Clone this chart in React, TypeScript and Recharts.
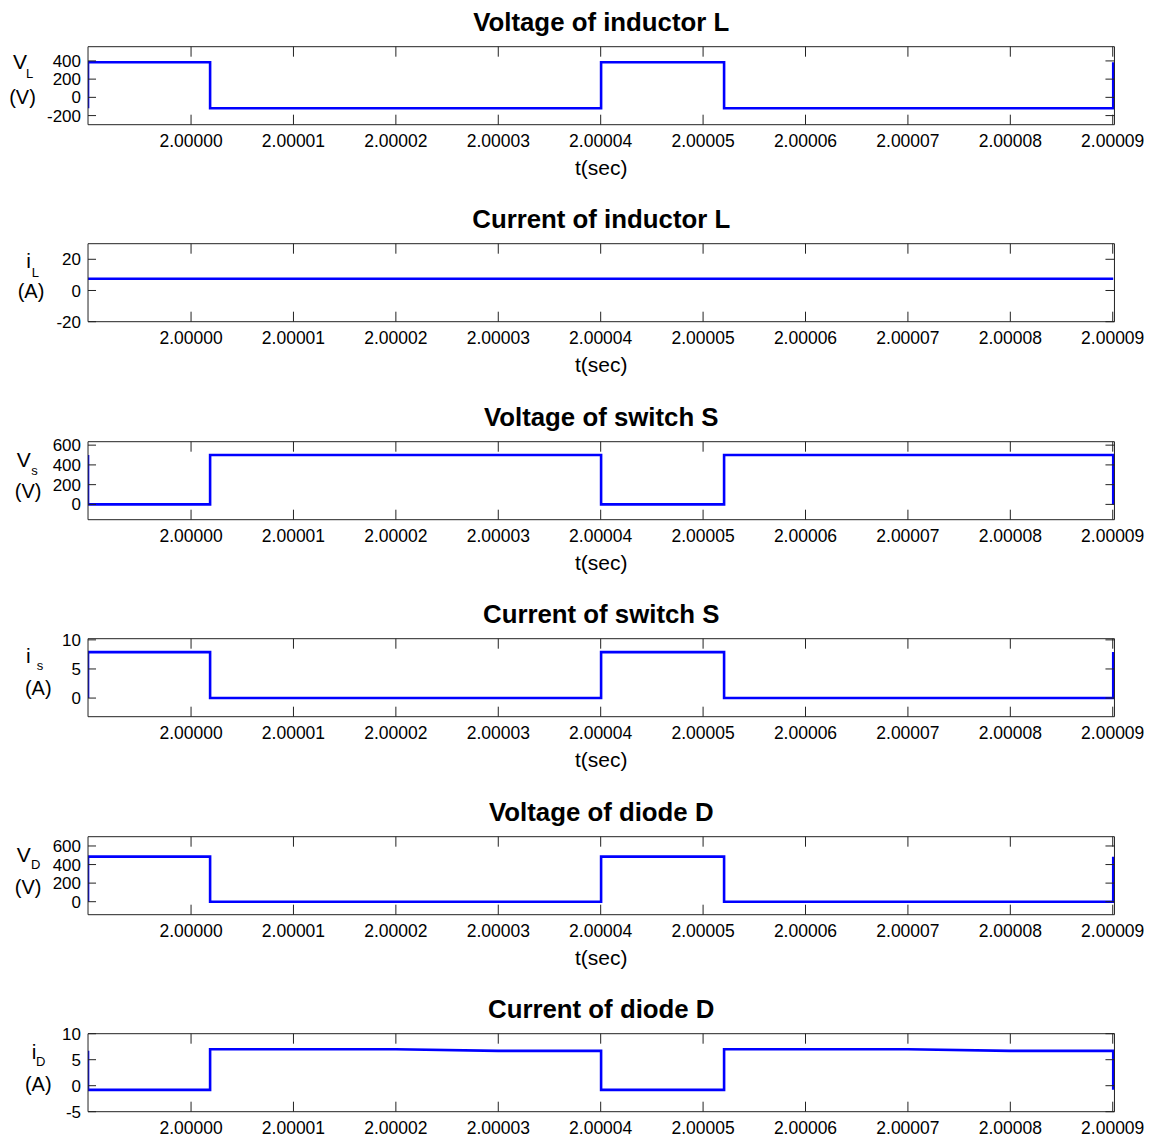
import React from 'react';
import { LineChart, Line, XAxis, YAxis } from 'recharts';

// time axis in microseconds after t = 2 s; switching edges are doubled
const timeUs = [-10.06, -10.06, 1.86, 1.86, 20, 30, 40.04, 40.04, 52.05, 52.05, 70, 80, 90.05, 90.05];
const vInductor = [-120, 385, 385, -120, -120, -120, -120, 385, 385, -120, -120, -120, -120, 385];
const iInductor = [7.5, 7.5, 7.5, 7.5, 7.5, 7.5, 7.5, 7.5, 7.5, 7.5, 7.5, 7.5, 7.5, 7.5];
const vSwitch = [500, 0, 0, 500, 500, 500, 500, 0, 0, 500, 500, 500, 500, 0];
const iSwitch = [0, 7.9, 7.9, 0, 0, 0, 0, 7.9, 7.9, 0, 0, 0, 0, 7.9];
const vDiode = [0, 485, 485, 0, 0, 0, 0, 485, 485, 0, 0, 0, 0, 485];
const iDiode = [6.7, -0.8, -0.8, 7.0, 7.0, 6.7, 6.7, -0.8, -0.8, 7.0, 7.0, 6.7, 6.7, -0.8];

const xTicks = [0, 10, 20, 30, 40, 50, 60, 70, 80, 90];
const xDomain = [-10.06, 90.17];

const FONT = "'Liberation Sans', Arial, Helvetica, sans-serif";
const W = 1154;
const STEP = 197.46;
const BOX_TOP = 46.7;
const BOX_H = 78;
const BOX_LEFT = 88;
const BOX_RIGHT = 1114.5;

const panels = [
  {
    title: 'Voltage of inductor L', values: vInductor, domain: [-300, 556], ticks: [-200, 0, 200, 400],
    sym: 'V', sub: 'L', unit: '(V)', main: [20, 14], subPos: [29.5, 26.3], unitPos: [22.5, 50],
  },
  {
    title: 'Current of inductor L', values: iInductor, domain: [-20, 30], ticks: [-20, 0, 20],
    sym: 'i', sub: 'L', unit: '(A)', main: [28.7, 15.7], subPos: [35.3, 27.4], unitPos: [31, 47],
  },
  {
    title: 'Voltage of switch S', values: vSwitch, domain: [-155, 635], ticks: [0, 200, 400, 600],
    sym: 'V', sub: 's', unit: '(V)', main: [23.8, 17.6], subPos: [34.5, 28.3], unitPos: [28.2, 49.5],
  },
  {
    title: 'Current of switch S', values: iSwitch, domain: [-3.2, 10.2], ticks: [0, 5, 10],
    sym: 'i', sub: 's', unit: '(A)', main: [28.3, 15.7], subPos: [40, 25.7], unitPos: [38.3, 48.5],
  },
  {
    title: 'Voltage of diode D', values: vDiode, domain: [-140, 700], ticks: [0, 200, 400, 600],
    sym: 'V', sub: 'D', unit: '(V)', main: [23.8, 17.3], subPos: [35.8, 27.3], unitPos: [28.2, 50],
  },
  {
    title: 'Current of diode D', values: iDiode, domain: [-5, 10], ticks: [-5, 0, 5, 10],
    sym: 'i', sub: 'D', unit: '(A)', main: [34, 16.7], subPos: [40.8, 26.7], unitPos: [38.3, 50.5],
  },
];

const fmtTime = (v: number) => (2 + v * 1e-6).toFixed(5);
const noLabel = () => '';

const Txt = ({ x, y, size, bold, children }: any) => (
  <div
    style={{
      position: 'absolute', left: x, top: y, transform: 'translate(-50%, -50%)',
      fontSize: size, lineHeight: 1, whiteSpace: 'nowrap', fontWeight: bold ? 'bold' : 'normal', color: '#000',
    }}
  >
    {children}
  </div>
);

function Panel({ p, index }: any) {
  const data = timeUs.map((t, k) => ({ t, v: p.values[k] }));
  return (
    <div style={{ position: 'absolute', left: 0, top: index * STEP, width: W, height: 200 }}>
      <LineChart
        width={W}
        height={BOX_TOP + BOX_H + 72}
        data={data}
        margin={{ top: BOX_TOP - 1, right: 0, bottom: 12, left: 0 }}
        style={{ fontFamily: FONT }}
      >
        <XAxis
          xAxisId="b" dataKey="t" type="number" domain={xDomain} ticks={xTicks} allowDataOverflow interval={0}
          height={60} tickSize={-10} tickMargin={20} tickFormatter={fmtTime} stroke="#222"
          tick={{ fill: '#000', fontSize: 17.5 }}
          label={index < 5 ? { value: 't(sec)', position: 'insideTop', offset: 35, fill: '#000', fontSize: 21 } : undefined}
        />
        <XAxis
          xAxisId="t" orientation="top" dataKey="t" type="number" domain={xDomain} ticks={xTicks} allowDataOverflow
          interval={0} height={1} tickSize={-10} tickMargin={0} tickFormatter={noLabel} stroke="#222"
        />
        <YAxis
          yAxisId="l" type="number" domain={p.domain} ticks={p.ticks} allowDataOverflow interval={0}
          width={BOX_LEFT} tickSize={-8} tickMargin={15} stroke="#222" tick={{ fill: '#000', fontSize: 17 }}
        />
        <YAxis
          yAxisId="r" orientation="right" type="number" domain={p.domain} ticks={p.ticks} allowDataOverflow interval={0}
          width={W - BOX_RIGHT} tickSize={-9} tickMargin={0} tickFormatter={noLabel} stroke="#222"
        />
        {/* invisible series so the mirrored top/right axes get drawn */}
        <Line
          xAxisId="t" yAxisId="r" dataKey="v" type="linear" stroke="none" dot={false}
          activeDot={false} isAnimationActive={false} legendType="none"
        />
        <Line
          xAxisId="b" yAxisId="l" dataKey="v" type="linear" stroke="#0000ff" strokeWidth={2.6}
          dot={false} isAnimationActive={false}
        />
      </LineChart>
      <div
        style={{
          position: 'absolute', left: BOX_LEFT, width: BOX_RIGHT - BOX_LEFT, top: BOX_TOP - 23.7,
          transform: 'translateY(-50%)', textAlign: 'center', fontSize: 25.8, fontWeight: 'bold', lineHeight: 1,
        }}
      >
        {p.title}
      </div>
      <Txt x={p.main[0]} y={BOX_TOP + p.main[1]} size={21}>{p.sym}</Txt>
      <Txt x={p.subPos[0]} y={BOX_TOP + p.subPos[1]} size={13}>{p.sub}</Txt>
      <Txt x={p.unitPos[0]} y={BOX_TOP + p.unitPos[1]} size={20}>{p.unit}</Txt>
    </div>
  );
}

export default function App() {
  return (
    <div
      style={{
        position: 'absolute', left: 0, top: 0, width: W, height: 1140, overflow: 'hidden',
        background: '#fff', fontFamily: FONT,
      }}
    >
      {panels.map((p, i) => (
        <Panel key={p.title} p={p} index={i} />
      ))}
    </div>
  );
}
